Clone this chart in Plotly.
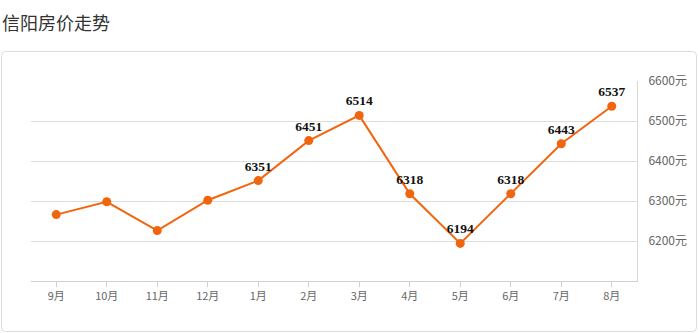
import plotly.graph_objects as go

months = ["9月", "10月", "11月", "12月", "1月", "2月", "3月", "4月", "5月", "6月", "7月", "8月"]
prices = [6266, 6298, 6226, 6302, 6351, 6451, 6514, 6318, 6194, 6318, 6443, 6537]
show_label = [False, False, False, False, True, True, True, True, True, True, True, True]
y_ticks = [6200, 6300, 6400, 6500, 6600]
y_tick_text = [f"{v}元" for v in y_ticks]
title_text = "信阳房价走势"

W, H = 698, 333
L, R, T, B = 31, 61, 81, 52
pw, ph = W - L - R, H - T - B

def px(x):
    return (x - L) / pw

def py(y):
    return (H - B - y) / ph

labels = [str(v) if s else "" for v, s in zip(prices, show_label)]
color = "#f2650f"

fig = go.Figure()
fig.add_trace(go.Scatter(
    x=months, y=prices, mode="lines+markers+text",
    line=dict(color=color, width=2),
    marker=dict(color=color, size=9),
    text=labels, textposition="top center",
    textfont=dict(family="Liberation Serif", size=13.5, color="#111", weight="bold"),
    cliponaxis=False, hoverinfo="skip",
))

# panel box with rounded corners
x0, x1, y0, y1, r = px(1.5), px(696.5), py(51.5), py(331.5), 4
rx, ry = r / pw, r / ph
path = (f"M {x0+rx},{y0} L {x1-rx},{y0} Q {x1},{y0} {x1},{y0-ry} "
        f"L {x1},{y1+ry} Q {x1},{y1} {x1-rx},{y1} L {x0+rx},{y1} "
        f"Q {x0},{y1} {x0},{y1+ry} L {x0},{y0-ry} Q {x0},{y0} {x0+rx},{y0} Z")
fig.add_shape(type="path", path=path, xref="paper", yref="paper",
              line=dict(color="#dcdcdc", width=1), layer="below")

fig.add_annotation(text=title_text, xref="paper", yref="paper",
                   x=px(0), y=py(22), xanchor="left", yanchor="middle",
                   showarrow=False,
                   font=dict(family="Noto Sans CJK SC", size=18, color="#333"))

fig.update_layout(
    width=W, height=H,
    margin=dict(l=L, r=R, t=T, b=B),
    paper_bgcolor="white", plot_bgcolor="white",
    showlegend=False,
    font=dict(family="Noto Sans CJK SC", color="#666", size=12),
)
fig.update_xaxes(
    type="category", range=[-0.5, len(months) - 0.5],
    showgrid=False, showline=True, linecolor="#d0d0d0", linewidth=1,
    ticks="outside", ticklen=5, tickcolor="#d0d0d0",
    tickfont=dict(size=11, color="#666"),
)
fig.update_yaxes(
    side="right", range=[6100, 6600],
    tickvals=y_ticks, ticktext=y_tick_text,
    showgrid=True, gridcolor="#dddddd", gridwidth=1,
    showline=True, linecolor="#d8d8d8", linewidth=1,
    zeroline=False, ticks="", ticklabelstandoff=8,
    tickfont=dict(size=12, color="#666"),
)

fig.write_html("out.html")
